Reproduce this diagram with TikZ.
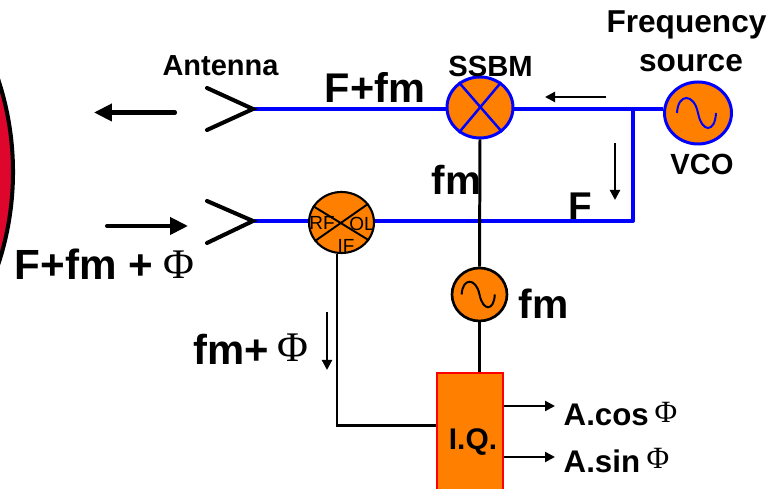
\documentclass[tikz,border=0pt]{standalone}
\usepackage{fontspec}
\setmainfont{Liberation Sans}
\newfontfamily\phifont{Liberation Serif}
\usepackage{xcolor}
\usepackage{tikz}
\usetikzlibrary{shapes,arrows.meta,positioning,calc}
\definecolor{MixerOrange}{RGB}{255, 128, 0}
\definecolor{TargetRed}{RGB}{222, 6, 44}
\definecolor{LineBlue}{RGB}{0, 0, 255}
\newcommand{\fsz}[1]{\fontsize{#1}{#1}\selectfont}
\newcommand{\sinewave}[3]{\draw[#1, line width=0.57pt, shift={(#2.center)}, scale=#3] (-0.21,0) .. controls (-0.2,-0.2) and (-0.04,-0.2) .. (0,0) .. controls (0.04,0.2) and (0.17,0.2) .. (0.18,0);}
\tikzset{
  lbl/.style={inner sep=0pt, anchor=base west, font=\bfseries\fsz{#1}},
  lblmid/.style={inner sep=0pt, anchor=base, font=\bfseries\fsz{#1}},
  phi/.style={inner sep=0pt, anchor=base west, font=\phifont\fsz{#1}},
  port/.style={inner sep=0pt, font=\fsz{5.4}},
  osc/.style={draw, fill=MixerOrange, ellipse, inner sep=0pt},
  blueosc/.style={osc, draw=LineBlue, line width=0.85pt},
  blueline/.style={draw=LineBlue, line width=1.1pt},
  blackline/.style={draw=black, line width=0.85pt},
  horn/.style={draw=black, line width=1.15pt, line cap=round, line join=miter},
  bigarrow/.style={draw=black, line width=1.15pt, line cap=round, -{Triangle[length=0.18cm, width=0.17cm]}},
  thinarrow/.style={draw=black, line width=0.62pt, -{Triangle[length=0.1cm, width=0.1cm]}}
}
\begin{document}
\begin{tikzpicture}[y=-1cm]
  \useasboundingbox (0,0) rectangle (7.7,4.89);
  \clip (0,0) rectangle (7.7,4.89);
  % Target
  \draw[fill=TargetRed, line width=1.15pt] (-2.82,1.72) circle (2.95);
  % Blocks
  \coordinate (txhorn) at (2.53,1.09);
  \coordinate (rxhorn) at (2.53,2.21);
  \coordinate (branch) at (6.33,1.09);
  \coordinate (corner) at (6.33,2.21);
  \coordinate (ifcorner) at (3.37,4.26);
  \node[blueosc, minimum width=0.66cm, minimum height=0.61cm] (ssbm) at (4.8,1.075) {};
  \node[blueosc, minimum width=0.67cm, minimum height=0.62cm] (vco) at (6.98,1.13) {};
  \node[osc, line width=0.6pt, minimum width=0.65cm, minimum height=0.61cm] (mixer) at (3.415,2.225) {};
  \node[osc, line width=0.75pt, minimum width=0.55cm, minimum height=0.53cm] (fmosc) at (4.795,2.945) {};
  \node[draw=red, fill=MixerOrange, line width=0.6pt, inner sep=0pt, minimum width=0.66cm, minimum height=1.4cm, anchor=north west] (iq) at (4.36,3.72) {};
  % Connectors
  \draw[blueline] (txhorn) -- (ssbm.west |- txhorn);
  \draw[blueline] (ssbm.east |- branch) -- (vco.west |- branch);
  \draw[blueline, line join=round] (branch) -- (corner) -- (mixer.east |- corner);
  \draw[blueline] (rxhorn) -- (mixer.west |- rxhorn);
  \draw[blackline] (ssbm.south) -- (fmosc.north);
  \draw[blackline] (fmosc.south) -- (fmosc.south |- iq.north);
  \draw[blackline] (mixer.south -| ifcorner) -- (ifcorner) -- (iq.west |- ifcorner);
  % Antennas
  \coordinate (txup) at (2.07,0.88);
  \coordinate (txdown) at (2.07,1.3);
  \coordinate (rxup) at (2.07,2.01);
  \coordinate (rxdown) at (2.07,2.43);
  \draw[horn] (txup) -- (txhorn) -- (txdown);
  \draw[horn] (rxup) -- (rxhorn) -- (rxdown);
  % Mixer crosses and waves
  \draw[draw=LineBlue, line width=0.7pt] (ssbm.130) -- (ssbm.-48);
  \draw[draw=LineBlue, line width=0.7pt] (ssbm.50) -- (ssbm.-130);
  \draw[line width=0.55pt] (mixer.150) -- (mixer.-33);
  \draw[line width=0.55pt] (mixer.35) -- (mixer.-145);
  \sinewave{LineBlue}{vco}{1}
  \sinewave{black}{fmosc}{0.85}
  \node[port] (rf) at (3.22,2.225) {RF};
  \node[port] (ol) at (3.62,2.24) {OL};
  \node[port] (if) at (3.46,2.46) {IF};
  % Direction arrows
  \coordinate (txfrom) at (1.75,1.125);
  \coordinate (txto) at (0.94,1.125);
  \coordinate (rxfrom) at (1.07,2.26);
  \coordinate (rxto) at (1.88,2.26);
  \draw[bigarrow] (txfrom) -- (txto);
  \draw[bigarrow] (rxfrom) -- (rxto);
  \coordinate (loleft) at (6.06,0.97);
  \coordinate (loright) at (5.45,0.97);
  \coordinate (fdown) at (6.15,1.43);
  \coordinate (fend) at (6.15,2.0);
  \coordinate (ifdown) at (3.27,3.12);
  \coordinate (ifend) at (3.27,3.7);
  \draw[thinarrow] (loleft) -- (loright);
  \draw[thinarrow] (fdown) -- (fend);
  \draw[thinarrow] (ifdown) -- (ifend);
  \coordinate (cosend) at (5.55,4.06);
  \coordinate (sinend) at (5.55,4.57);
  \draw[thinarrow] (iq.east |- cosend) -- (cosend);
  \draw[thinarrow] (iq.east |- sinend) -- (sinend);
  % Labels
  \node[lblmid=8.25] (antenna) at (2.205,0.76) {Antenna};
  \node[lbl=11.8] (sum) at (3.24,1.03) {F+fm};
  \node[lblmid=8.3] (ssbmlabel) at (4.905,0.77) {SSBM};
  \node[lblmid=9] (freq) at (6.865,0.33) {Frequency};
  \node[lblmid=9] (source) at (6.91,0.72) {source};
  \node[lblmid=8.3] (vcolabel) at (7.02,1.75) {VCO};
  \node[lbl=11.5] (fmtop) at (4.31,1.95) {fm};
  \node[lbl=11] (flabel) at (5.68,2.2) {F};
  \node[lbl=11.6] (fmlow) at (5.18,3.19) {fm};
  \node[lbl=12] (echo) at (0.14,2.8) {F+fm +};
  \node[phi=12] (echophi) at (1.63,2.79) {Φ};
  \node[lbl=11.9] (fmplus) at (1.93,3.65) {fm+};
  \node[phi=12] (fmphi) at (2.77,3.62) {Φ};
  \node[lblmid=8.5] (iqlabel) at (4.73,4.5) {I.Q.};
  \node[lbl=8.9] (acos) at (5.63,4.26) {A.cos};
  \node[phi=8.8] (cosphi) at (6.54,4.23) {Φ};
  \node[lbl=8.9] (asin) at (5.63,4.73) {A.sin};
  \node[phi=8.8] (sinphi) at (6.46,4.69) {Φ};
\end{tikzpicture}
\end{document}
